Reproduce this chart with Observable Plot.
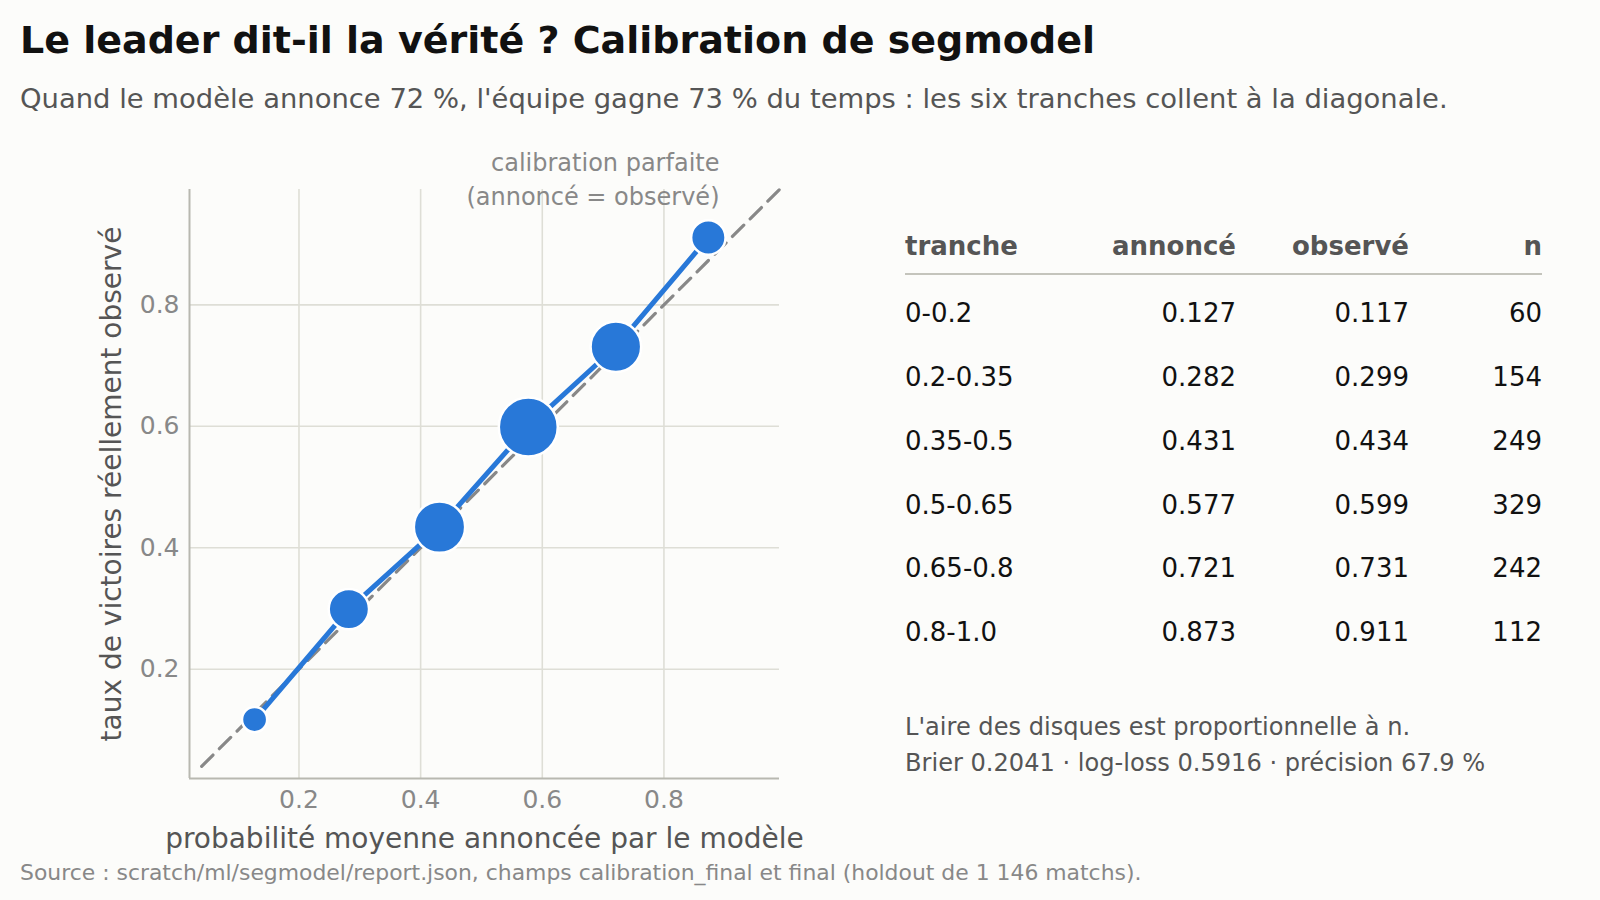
<!DOCTYPE html>
<html lang="fr">
<head>
<meta charset="utf-8">
<script src="https://cdn.jsdelivr.net/npm/d3@7"></script>
<script src="https://cdn.jsdelivr.net/npm/@observablehq/plot@0.6"></script>
<style>
  html, body { margin: 0; padding: 0; background: #fcfcfa; }
  body { width: 1600px; height: 900px; position: relative; overflow: hidden; font-family: "DejaVu Sans", sans-serif; }
  .abs { position: absolute; white-space: nowrap; line-height: 1; }
  #title { left: 20px; top: 20.6px; font-size: 38px; font-weight: bold; color: #111; }
  #subtitle { left: 20px; top: 85px; font-size: 27.4px; color: #555; }
  #chart { position: absolute; left: 0; top: 130px; }
  #chart g[aria-label="x-axis label"] text, #chart g[aria-label="y-axis label"] text { font-size: 28px; fill: #555; }
  #table { position: absolute; left: 905px; top: 0; width: 637px; }
  .row { position: absolute; left: 0; width: 637px; height: 26px; font-size: 26px; line-height: 1; display: grid; grid-template-columns: 160px 171px 173px 133px; color: #111; }
  .row span { white-space: nowrap; }
  .row span + span { text-align: right; }
  .row.head { font-weight: bold; color: #555; }
  #rule { position: absolute; left: 905px; top: 272.8px; width: 637px; height: 2px; background: #c4c4bc; }
  #note { left: 905px; top: 709.4px; font-size: 24.1px; line-height: 36px; color: #555; }
  #source { left: 20px; top: 862px; font-size: 21.9px; color: #888; }
</style>
</head>
<body>
<div id="title" class="abs">Le leader dit-il la vérité ? Calibration de segmodel</div>
<div id="subtitle" class="abs">Quand le modèle annonce 72 %, l'équipe gagne 73 % du temps : les six tranches collent à la diagonale.</div>
<div id="chart"></div>
<div id="table"></div>
<div id="rule"></div>
<div id="note" class="abs">L'aire des disques est proportionnelle à n.<br>Brier 0.2041 · log-loss 0.5916 · précision 67.9 %</div>
<div id="source" class="abs">Source : scratch/ml/segmodel/report.json, champs calibration_final et final (holdout de 1 146 matchs).</div>
<script>
// ---- données ----
const tranches = ["0-0.2", "0.2-0.35", "0.35-0.5", "0.5-0.65", "0.65-0.8", "0.8-1.0"];
const annonce = [0.127, 0.282, 0.431, 0.577, 0.721, 0.873];
const observe = [0.117, 0.299, 0.434, 0.599, 0.731, 0.911];
const effectifs = [60, 154, 249, 329, 242, 112];
const ticks = [0.2, 0.4, 0.6, 0.8];
const domaine = [0.02, 0.99];
const diagonale = [0.04, 0.99];
const enTetes = ["tranche", "annoncé", "observé", "n"];

const data = tranches.map((t, i) => ({tranche: t, p: annonce[i], o: observe[i], n: effectifs[i]}));

const bleu = "#2878d8";

const chart = Plot.plot({
  width: 799,
  height: 728,
  marginLeft: 189,
  marginRight: 20,
  marginTop: 59,
  marginBottom: 80,
  style: {background: "transparent", fontFamily: "DejaVu Sans", fontSize: "25px", color: "#888", overflow: "visible"},
  x: {domain: domaine},
  y: {domain: domaine},
  r: {range: [0, 29.5]},
  marks: [
    Plot.gridX(ticks, {stroke: "#deded6", strokeOpacity: 1, strokeWidth: 1.6}),
    Plot.gridY(ticks, {stroke: "#deded6", strokeOpacity: 1, strokeWidth: 1.6}),
    Plot.ruleX([domaine[0]], {stroke: "#b8b8b0", strokeWidth: 2}),
    Plot.ruleY([domaine[0]], {stroke: "#b8b8b0", strokeWidth: 2}),
    Plot.line(diagonale, {x: d => d, y: d => d, stroke: "#888", strokeWidth: 3.2, strokeDasharray: "16,9"}),
    Plot.line(data, {x: "p", y: "o", stroke: bleu, strokeWidth: 5}),
    Plot.dot(data, {x: "p", y: "o", r: "n", fill: bleu, stroke: "white", strokeWidth: 2.5}),
    Plot.axisX({ticks, tickSize: 0, tickPadding: 12, fontSize: 25, fill: "#888",
      label: "probabilité moyenne annoncée par le modèle", labelAnchor: "center", labelOffset: 69, labelArrow: "none"}),
    Plot.axisY({ticks, tickSize: 0, tickPadding: 10, fontSize: 25, fill: "#888",
      label: "taux de victoires réellement observé", labelAnchor: "center", labelOffset: 88, labelArrow: "none"}),
    Plot.text(["calibration parfaite\n(annoncé = observé)"], {
      frameAnchor: "top-right", text: d => d, textAnchor: "end", lineAnchor: "bottom",
      dx: -60, dy: 15.3, lineHeight: 1.39, fontSize: 24, fill: "#888"
    })
  ]
});
document.getElementById("chart").append(chart);

// ---- tableau ----
const table = document.getElementById("table");
const rowBaseline0 = 322.3, rowStep = 63.74;
function addRow(cells, baseline, cls) {
  const div = document.createElement("div");
  div.className = "row" + (cls ? " " + cls : "");
  div.style.top = (baseline - 0.846 * 26) + "px";
  for (const c of cells) {
    const s = document.createElement("span");
    s.textContent = c;
    div.append(s);
  }
  table.append(div);
}
addRow(enTetes, 254.7, "head");
data.forEach((d, i) => addRow([d.tranche, d.p.toFixed(3), d.o.toFixed(3), String(d.n)], rowBaseline0 + i * rowStep));
</script>
</body>
</html>
